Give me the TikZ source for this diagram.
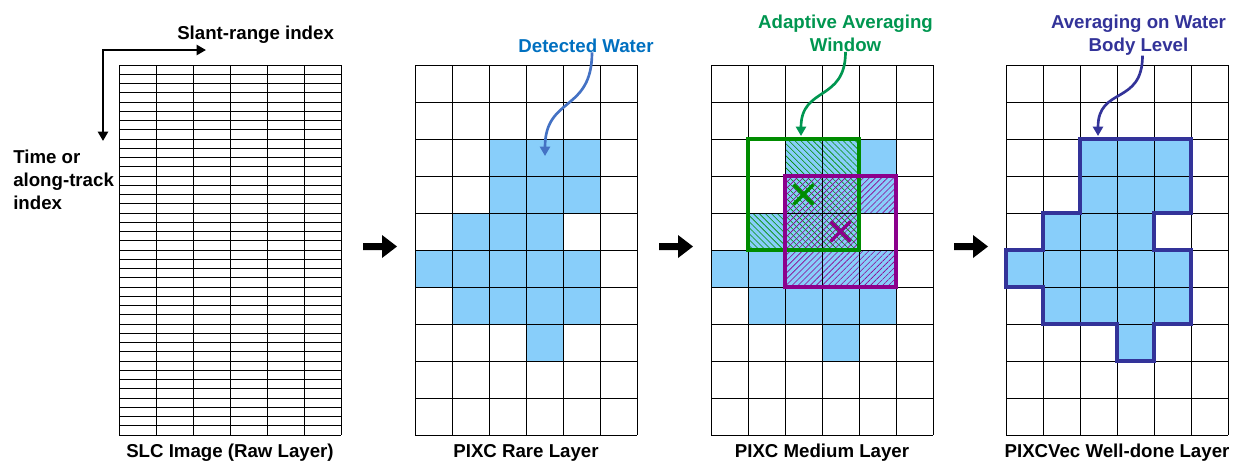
\documentclass[tikz,border=0pt]{standalone}
\usepackage{fontspec}
\setmainfont{Liberation Sans}
\usetikzlibrary{arrows.meta,patterns.meta}
\definecolor{water}{RGB}{136,206,250}
\definecolor{detblue}{RGB}{0,112,192}
\definecolor{detarrow}{RGB}{68,114,196}
\definecolor{wingreen}{RGB}{0,150,80}
\definecolor{boxgreen}{RGB}{0,140,0}
\definecolor{boxpurple}{RGB}{140,0,140}
\definecolor{bodyblue}{RGB}{51,51,153}
\begin{document}
\begin{tikzpicture}[x=0.75pt,y=-0.75pt,
  lbl/.style={font=\fontsize{14}{17}\selectfont\bfseries, inner sep=0pt},
  gridline/.style={line width=0.7pt, black},
  watercell/.style={fill=water},
  callout/.style={line width=2pt, -{Triangle[length=7pt,width=7.5pt]}},
  blockarrow/.style={fill=black},
  axisarrow/.style={line width=1.8pt, {Triangle[length=7pt,width=7.5pt]}-{Triangle[length=7pt,width=7.5pt]}},
  greenhatch/.style={pattern={Lines[angle=-45,distance=3.2pt,line width=0.45pt]}, pattern color=boxgreen},
  purplehatch/.style={pattern={Lines[angle=45,distance=3.2pt,line width=0.45pt]}, pattern color=boxpurple},
  winbox/.style={line width=3pt, line join=miter},
  xmark/.style={line width=2.6pt}
]
\useasboundingbox (0,0) rectangle (1238,462);
\def\watercells{2/2,3/2,4/2,2/3,3/3,4/3,1/4,2/4,3/4,0/5,1/5,2/5,3/5,4/5,1/6,2/6,3/6,4/6,3/7}

% ---------- Grid 1: SLC ----------
\begin{scope}[shift={(119,65)}]
  \foreach \r in {0,...,40} \draw[line width=0.6pt] (0,{\r*9.25}) -- (222,{\r*9.25});
  \foreach \c in {0,...,6} \draw[gridline] ({\c*37},0) -- ({\c*37},370);
\end{scope}
\coordinate (timeend) at (103,141);
\coordinate (slantend) at (206,50);
\draw[axisarrow] (timeend) |- (slantend);
\node[lbl, anchor=base west] (slant) at (177,39) {Slant-range index};
\node[lbl, anchor=north west, align=left] (time) at (13,150) {Time or\\along-track\\index};
\node[lbl, anchor=base] (t1) at (230,457) {SLC Image (Raw Layer)};

% ---------- Grid 2: PIXC Rare ----------
\begin{scope}[shift={(415,65)}]
  \foreach \c/\r in \watercells \fill[watercell] ({\c*37},{\r*37}) rectangle +(37,37);
  \foreach \r in {0,...,10} \draw[gridline] (0,{\r*37}) -- (222,{\r*37});
  \foreach \c in {0,...,6} \draw[gridline] ({\c*37},0) -- ({\c*37},370);
\end{scope}
\node[lbl, text=detblue, anchor=base] (dw) at (586,52) {Detected Water};
\coordinate (dwtip) at (545,156);
\draw[callout, detarrow] ([xshift=4.5pt]dw.south) .. controls +(0,60) and +(0,-60) .. (dwtip);
\node[lbl, anchor=base] (t2) at (526,457) {PIXC Rare Layer};

% ---------- Grid 3: PIXC Medium ----------
\begin{scope}[shift={(711,65)}]
  \foreach \c/\r in \watercells \fill[watercell] ({\c*37},{\r*37}) rectangle +(37,37);
  \foreach \c/\r in {2/2,3/2,2/3,3/3,1/4,2/4,3/4}
    \fill[greenhatch] ({\c*37},{\r*37}) rectangle +(37,37);
  \foreach \c/\r in {2/3,3/3,4/3,2/4,3/4,2/5,3/5,4/5}
    \fill[purplehatch] ({\c*37},{\r*37}) rectangle +(37,37);
  \foreach \r in {0,...,10} \draw[gridline] (0,{\r*37}) -- (222,{\r*37});
  \foreach \c in {0,...,6} \draw[gridline] ({\c*37},0) -- ({\c*37},370);
  \draw[winbox, boxgreen] (37,74) rectangle (148,185);
  \draw[winbox, boxpurple] (74,111) rectangle (185,222);
  \draw[xmark, boxgreen] (82.5,119.5) -- +(20,20) (82.5,139.5) -- +(20,-20);
  \draw[xmark, boxpurple] (119.5,156.5) -- +(20,20) (119.5,176.5) -- +(20,-20);
\end{scope}
\node[lbl, text=wingreen, anchor=north, align=center] (aw) at (845.5,15) {Adaptive Averaging\\Window};
\coordinate (awtip) at (801,136);
\draw[callout, wingreen] (aw.south) .. controls +(0,50) and +(0,-50) .. (awtip);
\node[lbl, anchor=base] (t3) at (822,457) {PIXC Medium Layer};

% ---------- Grid 4: PIXCVec Well-done ----------
\begin{scope}[shift={(1006,65)}]
  \foreach \c/\r in \watercells \fill[watercell] ({\c*37},{\r*37}) rectangle +(37,37);
  \foreach \r in {0,...,10} \draw[gridline] (0,{\r*37}) -- (222,{\r*37});
  \foreach \c in {0,...,6} \draw[gridline] ({\c*37},0) -- ({\c*37},370);
  \draw[winbox, bodyblue] (74,74) -- (185,74) -- (185,148) -- (148,148) -- (148,185)
    -- (185,185) -- (185,259) -- (148,259) -- (148,296) -- (111,296) -- (111,259)
    -- (37,259) -- (37,222) -- (0,222) -- (0,185) -- (37,185) -- (37,148) -- (74,148) -- cycle;
\end{scope}
\node[lbl, text=bodyblue, anchor=north, align=center] (ab) at (1138.5,15) {Averaging on Water\\Body Level};
\coordinate (abtip) at (1098,136);
\draw[callout, bodyblue] ([xshift=3pt]ab.south) .. controls +(0,50) and +(0,-50) .. (abtip);
\node[lbl, anchor=base] (t4) at (1117,457) {PIXCVec Well-done Layer};

% ---------- Block arrows ----------
\foreach \dx in {0,296,591}
  \fill[blockarrow, shift={(\dx,0)}] (363,243) -- (382,243) -- (382,235) -- (397,246.5)
    -- (382,258) -- (382,250) -- (363,250) -- cycle;
\end{tikzpicture}
\end{document}
